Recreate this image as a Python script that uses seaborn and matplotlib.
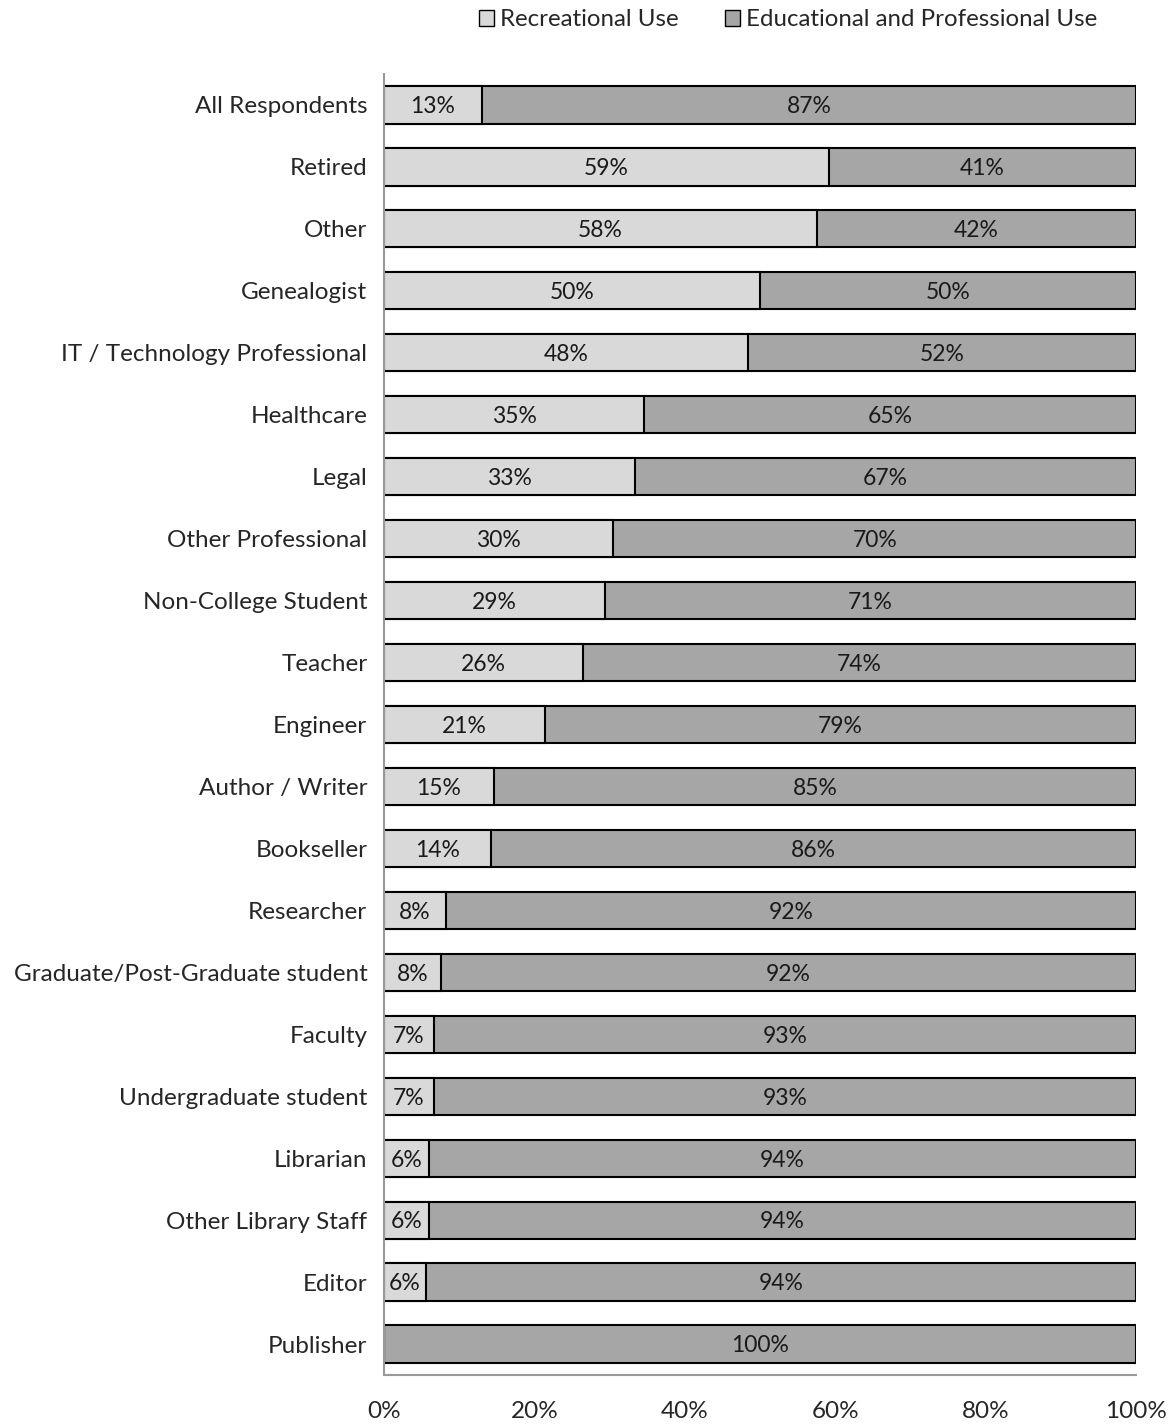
import matplotlib
matplotlib.use("Agg")
import matplotlib.pyplot as plt
import seaborn as sns
import pandas as pd
from matplotlib.patches import Patch

categories = ["All Respondents", "Retired", "Other", "Genealogist",
              "IT / Technology Professional", "Healthcare", "Legal",
              "Other Professional", "Non-College Student", "Teacher",
              "Engineer", "Author / Writer", "Bookseller", "Researcher",
              "Graduate/Post-Graduate student", "Faculty",
              "Undergraduate student", "Librarian", "Other Library Staff",
              "Editor", "Publisher"]
recreational = [13.0, 59.2, 57.6, 50.0, 48.4, 34.6, 33.4, 30.5, 29.4, 26.5,
                21.4, 14.6, 14.2, 8.2, 7.6, 6.6, 6.6, 6.0, 6.0, 5.6, 0.0]
educational = [100 - r for r in recreational]
series_names = ["Recreational Use", "Educational and Professional Use"]
xticks = [0, 20, 40, 60, 80, 100]
xticklabels = ["0%", "20%", "40%", "60%", "80%", "100%"]

light = "#D9D9D9"
dark = "#A6A6A6"

sns.set_style("white")
plt.rcParams['font.family'] = ['Lato', 'DejaVu Sans']

df = pd.DataFrame({"cat": categories, "rec": recreational,
                   "edu": educational})
df["total"] = df["rec"] + df["edu"]

fig = plt.figure(figsize=(11.73, 14.25), dpi=100)
ax = fig.add_axes([384/1173, 1-1375/1425, (1136-384)/1173, (1375-74)/1425])

sns.barplot(data=df, y="cat", x="total", orient="h", color=dark,
            edgecolor="black", linewidth=1.5, width=0.6, ax=ax,
            saturation=1)
sns.barplot(data=df, y="cat", x="rec", orient="h", color=light,
            edgecolor="black", linewidth=1.5, width=0.6, ax=ax,
            saturation=1)

fs = 16.5
for i, (r, e) in enumerate(zip(recreational, educational)):
    if r > 0:
        ax.text(r/2, i + 0.03, f"{round(r):d}%", ha="center", va="center",
                fontsize=fs, color="#1a1a1a")
    if e > 0:
        ax.text(r + e/2, i + 0.03, f"{round(e):d}%", ha="center",
                va="center", fontsize=fs, color="#1a1a1a")

ax.set_xlim(0, 100)
ax.set_ylim(len(categories) - 0.5, -0.5)
ax.set_xticks(xticks)
ax.set_xticklabels(xticklabels, fontsize=17.5)
ax.tick_params(axis="x", length=7, color="#999999", width=1.2, pad=12)
ax.tick_params(axis="y", length=0, labelsize=17.5, pad=12)
ax.set_xlabel("")
ax.set_ylabel("")
for s in ["top", "right"]:
    ax.spines[s].set_visible(False)
for s in ["left", "bottom"]:
    ax.spines[s].set_color("#999999")
    ax.spines[s].set_linewidth(1.5)

handles = [Patch(facecolor=light, edgecolor="black", label=series_names[0]),
           Patch(facecolor=dark, edgecolor="black", label=series_names[1])]
fig.legend(handles=handles, loc="center", bbox_to_anchor=(788/1173, 1-20/1425),
           ncol=2, frameon=False, fontsize=17.3, handlelength=0.65,
           handleheight=0.65, handletextpad=0.25, columnspacing=1.9)

fig.savefig("out.png", dpi=100)
